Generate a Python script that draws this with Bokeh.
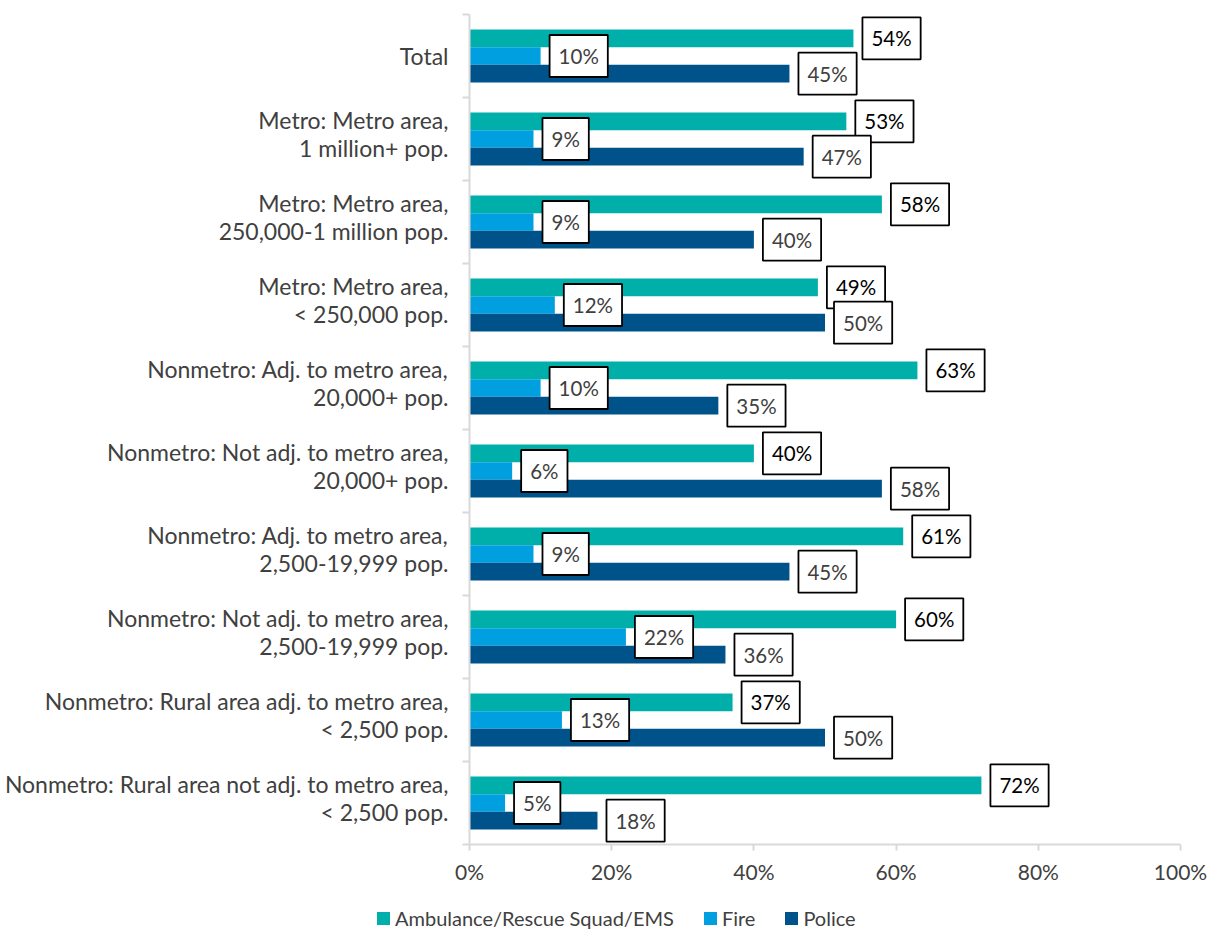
from bokeh.plotting import figure
from bokeh.layouts import column
from bokeh.models import ColumnDataSource, FixedTicker, Range1d, Div
from bokeh.core.properties import value
from bokeh.embed import file_html
from bokeh.resources import INLINE

categories = [
    "Total",
    "Metro: Metro area,\n1 million+ pop.",
    "Metro: Metro area,\n250,000-1 million pop.",
    "Metro: Metro area,\n< 250,000 pop.",
    "Nonmetro: Adj. to metro area,\n20,000+ pop.",
    "Nonmetro: Not adj. to metro area,\n20,000+ pop.",
    "Nonmetro: Adj. to metro area,\n2,500-19,999 pop.",
    "Nonmetro: Not adj. to metro area,\n2,500-19,999 pop.",
    "Nonmetro: Rural area adj. to metro area,\n< 2,500 pop.",
    "Nonmetro: Rural area not adj. to metro area,\n< 2,500 pop.",
]
ems = [54, 53, 58, 49, 63, 40, 61, 60, 37, 72]
fire = [10, 9, 9, 12, 10, 6, 9, 22, 13, 5]
police = [45, 47, 40, 50, 35, 58, 45, 36, 50, 18]
series_names = ["Ambulance/Rescue Squad/EMS", "Fire", "Police"]
series_values = [ems, fire, police]
colors = ["#00AFAA", "#009FDF", "#00538A"]
label_colors = ["#000000", "#404040", "#404040"]
x_ticks = [0, 20, 40, 60, 80, 100]

FONT = "Lato"
AXIS_GRAY = "#D9D9D9"
TEXT_GRAY = "#404040"

p = figure(
    frame_width=711, frame_height=830,
    min_border_left=469, min_border_right=28, min_border_top=14, min_border_bottom=46,
    x_range=Range1d(0, 100), y_range=Range1d(9.5, -0.5),
    output_backend="svg", toolbar_location=None,
)
p.outline_line_color = None
p.xgrid.visible = False
p.ygrid.visible = False

bar_h = 0.213
offsets = [-bar_h, 0.0, bar_h]
sources = []
for vals, col, off in zip(series_values, colors, offsets):
    src = ColumnDataSource(dict(
        y=[i + off for i in range(len(vals))],
        v=vals,
        lab=[f"{v}%" for v in vals],
    ))
    sources.append(src)
    p.hbar(y="y", left=0, right="v", height=bar_h, source=src,
           fill_color=col, line_color=None)

for src, lcol in zip(sources, label_colors):
    p.text(x="v", y="y", text="lab", source=src, x_offset=9,
           text_align="left", text_baseline="middle",
           text_font=value(FONT), text_font_size="20.5px", text_color=lcol,
           background_fill_color="white", border_line_color="black",
           border_line_width=1.8, padding=9)

# y axis: two-line labels sit slightly above the group centre, as in the original
label_pos = [round(i - (0.06 if "\n" in c else 0.0), 2) for i, c in enumerate(categories)]
yax = p.yaxis[0]
yax.ticker = FixedTicker(ticks=label_pos,
                         minor_ticks=[i - 0.5 for i in range(len(categories) + 1)])
yax.major_label_overrides = {t: c for t, c in zip(label_pos, categories)}
yax.major_tick_line_color = None
yax.minor_tick_line_color = AXIS_GRAY
yax.minor_tick_line_width = 2
yax.minor_tick_out = 7
yax.minor_tick_in = 0
yax.axis_line_color = AXIS_GRAY
yax.axis_line_width = 2
yax.major_label_text_font = FONT
yax.major_label_text_font_size = "23px"
yax.major_label_text_line_height = 1.0
yax.major_label_text_color = TEXT_GRAY
yax.major_label_standoff = 14

# x axis
xax = p.xaxis[0]
xax.ticker = FixedTicker(ticks=x_ticks, minor_ticks=[])
xax.major_label_overrides = {t: f"{t}%" for t in x_ticks}
xax.major_tick_line_color = AXIS_GRAY
xax.major_tick_line_width = 2
xax.major_tick_out = 6
xax.major_tick_in = 0
xax.axis_line_color = AXIS_GRAY
xax.axis_line_width = 2
xax.major_label_text_font = FONT
xax.major_label_text_font_size = "21px"
xax.major_label_text_color = TEXT_GRAY
xax.major_label_standoff = 8

# legend strip below the chart (swatch colours and names from the series lists)
item_html = "".join(
    f'<span style="display:inline-flex;align-items:center;margin-right:30px;">'
    f'<span style="display:inline-block;width:13px;height:13px;background:{c};'
    f'margin-right:5px;"></span>{n}</span>'
    for n, c in zip(series_names, colors)
)
legend_div = Div(
    text=(f'<div style="display:flex;align-items:center;box-sizing:border-box;'
          f'height:44px;padding-top:12px;padding-left:377px;white-space:nowrap;'
          f'font-family:{FONT};font-size:20px;color:{TEXT_GRAY};">{item_html}</div>'),
    width=1208, height=44, margin=0,
)

layout = column(p, legend_div, spacing=0)
open("out.html", "w").write(file_html(layout, INLINE))
